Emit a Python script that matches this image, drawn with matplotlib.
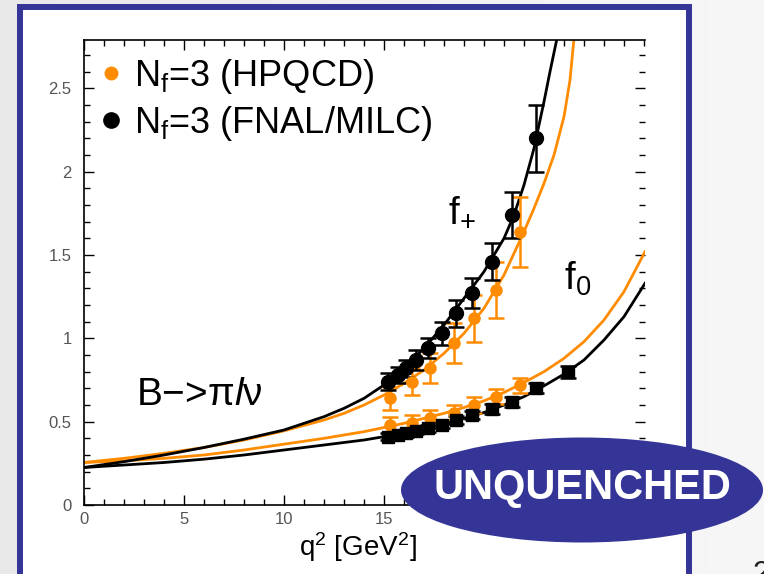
import numpy as np
import matplotlib
matplotlib.use("Agg")
import matplotlib.pyplot as plt
from matplotlib.patches import Ellipse, Rectangle
from matplotlib.colors import LinearSegmentedColormap
from matplotlib.ticker import MultipleLocator

plt.rcParams["font.family"] = ["Liberation Sans", "DejaVu Sans"]
plt.rcParams["mathtext.fontset"] = "custom"
plt.rcParams["mathtext.rm"] = "Liberation Sans"
plt.rcParams["mathtext.it"] = "Liberation Sans:italic"
plt.rcParams["mathtext.bf"] = "Liberation Sans:bold"

ORANGE = "#ff8c00"
BLUE = "#353598"

# ── lattice data: HPQCD (Nf=3) ──────────────────────────────
q2_hpqcd = [15.3, 16.4, 17.3, 18.5, 19.5, 20.6, 21.8]
fplus_hpqcd = [0.64, 0.74, 0.82, 0.97, 1.12, 1.29, 1.64]
fplus_hpqcd_err = [0.07, 0.08, 0.09, 0.12, 0.14, 0.17, 0.21]
fzero_hpqcd = [0.48, 0.49, 0.52, 0.555, 0.60, 0.65, 0.72]
fzero_hpqcd_err = [0.05, 0.05, 0.05, 0.045, 0.05, 0.045, 0.045]

# ── lattice data: FNAL/MILC (Nf=3) ──────────────────────────
q2_fnal_plus = [15.2, 15.7, 16.1, 16.6, 17.2, 17.9, 18.6, 19.4, 20.4, 21.4, 22.6]
fplus_fnal = [0.74, 0.78, 0.82, 0.87, 0.94, 1.03, 1.15, 1.27, 1.46, 1.74, 2.20]
fplus_fnal_err = [0.05, 0.05, 0.05, 0.06, 0.06, 0.07, 0.08, 0.09, 0.11, 0.14, 0.20]
q2_fnal_zero = [15.2, 15.7, 16.1, 16.6, 17.2, 17.9, 18.6, 19.4, 20.4, 21.4, 22.6, 24.2]
fzero_fnal = [0.41, 0.42, 0.43, 0.445, 0.46, 0.48, 0.51, 0.54, 0.575, 0.62, 0.70, 0.80]
fzero_fnal_err = [0.02, 0.02, 0.02, 0.02, 0.02, 0.02, 0.025, 0.025, 0.03, 0.03, 0.03, 0.035]

# ── fit curves ──────────────────────────────────────────────
fit_q2_fnal_plus = [0, 2, 4, 6, 8, 10, 12, 13, 14, 15, 16, 17, 18, 19, 20, 21,
                    21.5, 22, 22.5, 23, 23.3, 23.65]
fit_fnal_plus = [0.225, 0.26, 0.30, 0.345, 0.395, 0.45, 0.53, 0.58, 0.64, 0.72,
                 0.82, 0.94, 1.08, 1.24, 1.40, 1.60, 1.74, 1.92, 2.14, 2.42, 2.60, 2.80]
fit_q2_hpqcd_plus = [0, 2, 4, 6, 8, 10, 12, 13, 14, 15, 16, 17, 18, 19, 20, 21,
                     22, 22.5, 23, 23.5, 24, 24.3, 24.5]
fit_hpqcd_plus = [0.255, 0.28, 0.31, 0.345, 0.39, 0.445, 0.51, 0.55, 0.60, 0.66,
                  0.73, 0.81, 0.91, 1.03, 1.18, 1.38, 1.64, 1.78, 1.93, 2.10,
                  2.33, 2.55, 2.80]
fit_q2_zero = [0, 2, 4, 6, 8, 10, 12, 14, 15, 16, 17, 18, 19, 20, 21, 22, 23,
               24, 25, 26, 27, 28.05]
fit_fnal_zero = [0.225, 0.24, 0.255, 0.275, 0.30, 0.33, 0.36, 0.39, 0.41, 0.43,
                 0.455, 0.485, 0.52, 0.555, 0.60, 0.65, 0.715, 0.785, 0.87, 0.99,
                 1.13, 1.33]
fit_hpqcd_zero = [0.255, 0.265, 0.28, 0.30, 0.33, 0.365, 0.40, 0.44, 0.465, 0.49,
                  0.52, 0.55, 0.585, 0.625, 0.675, 0.735, 0.80, 0.88, 0.98, 1.11,
                  1.28, 1.52]

W, H = 764, 574
fig = plt.figure(figsize=(W / 100, H / 100), dpi=100)
fig.patch.set_facecolor("#f0f0f0")

# slide background + framed panel
bg = fig.add_axes([0, 0, 1, 1])
bg.set_xlim(0, W)
bg.set_ylim(H, 0)
bg.axis("off")
bg.set_zorder(0)
grad = np.linspace(0, 1, 256)[None, :]
bg.imshow(grad, extent=[0, W, H, 0], aspect="auto",
          cmap=LinearSegmentedColormap.from_list("bg", ["#e9e9e9", "#f7f7f7"]))
bg.add_patch(Rectangle((20, 7), 669, 575, facecolor="white", edgecolor=BLUE, lw=4.3))

# main plot
ax = fig.add_axes([84 / W, (H - 505) / H, 561 / W, 465 / H])
ax.set_zorder(1)
ax.patch.set_alpha(0)

ax.plot(fit_q2_hpqcd_plus, fit_hpqcd_plus, color=ORANGE, lw=2)
ax.plot(fit_q2_zero, fit_hpqcd_zero, color=ORANGE, lw=2)
ax.plot(fit_q2_fnal_plus, fit_fnal_plus, color="black", lw=2)
ax.plot(fit_q2_zero, fit_fnal_zero, color="black", lw=2)

eb = dict(capsize=6, elinewidth=1.8, capthick=1.8, linestyle="none")
ax.errorbar(q2_hpqcd, fplus_hpqcd, yerr=fplus_hpqcd_err, marker="o", ms=8,
            color=ORANGE, **eb)
ax.errorbar(q2_hpqcd, fzero_hpqcd, yerr=fzero_hpqcd_err, marker="o", ms=8,
            color=ORANGE, **eb)
ax.errorbar(q2_fnal_plus, fplus_fnal, yerr=fplus_fnal_err, marker="o", ms=10,
            color="black", **eb)
ax.errorbar(q2_fnal_zero, fzero_fnal, yerr=fzero_fnal_err, marker="s", ms=9,
            color="black", **eb)

ax.set_xlim(0, 28.05)
ax.set_ylim(0, 2.79)
ax.xaxis.set_major_locator(MultipleLocator(5))
ax.xaxis.set_minor_locator(MultipleLocator(1))
ax.yaxis.set_major_locator(MultipleLocator(0.5))
ax.yaxis.set_minor_locator(MultipleLocator(0.1))
ax.set_xticks([0, 5, 10, 15], labels=["0", "5", "10", "15"])
ax.set_yticks([0, 0.5, 1, 1.5, 2, 2.5], labels=["0", "0.5", "1", "1.5", "2", "2.5"])
ax.tick_params(which="both", direction="in", top=True, right=True,
               labelcolor="#555555", labelsize=12, width=1)
ax.tick_params(which="major", length=7)
ax.tick_params(which="minor", length=4)
ax.tick_params(axis="y", pad=9)
ax.tick_params(axis="x", pad=5)
ax.spines["right"].set_visible(False)
for s in ("left", "bottom", "top"):
    ax.spines[s].set_linewidth(1.2)
ax.set_xlabel(r"q$^2$ [GeV$^2$]", fontsize=20)
ax.xaxis.set_label_coords(0.488, -0.055)

# legend
ax.plot([1.35], [2.59], marker="o", ms=9, color=ORANGE, clip_on=False)
ax.plot([1.35], [2.31], marker="o", ms=11, color="black", clip_on=False)
ax.text(2.5, 2.515, r"N$_\mathregular{f}$=3 (HPQCD)", fontsize=26, va="baseline")
ax.text(2.5, 2.235, r"N$_\mathregular{f}$=3 (FNAL/MILC)", fontsize=26, va="baseline")

# annotations
ax.text(2.6, 0.60, r"B$-$>π$\mathit{l}$ν", fontsize=28, va="baseline")
ax.text(18.2, 1.695, r"f$_\mathregular{+}$", fontsize=28, va="baseline")
ax.text(24.0, 1.29, r"f$_\mathregular{0}$", fontsize=28, va="baseline")

# overlay badge
ov = fig.add_axes([0, 0, 1, 1])
ov.set_xlim(0, W)
ov.set_ylim(H, 0)
ov.axis("off")
ov.set_zorder(2)
ov.add_patch(Ellipse((582, 490), 362, 105, facecolor=BLUE, edgecolor="none"))
ov.text(582, 488, "UNQUENCHED", color="white", fontsize=30, fontweight="bold",
        ha="center", va="center")
ov.text(752, 560, "2", fontsize=22, color="#222222", va="top", ha="left")

fig.savefig("out.png", dpi=100, facecolor=fig.get_facecolor())
